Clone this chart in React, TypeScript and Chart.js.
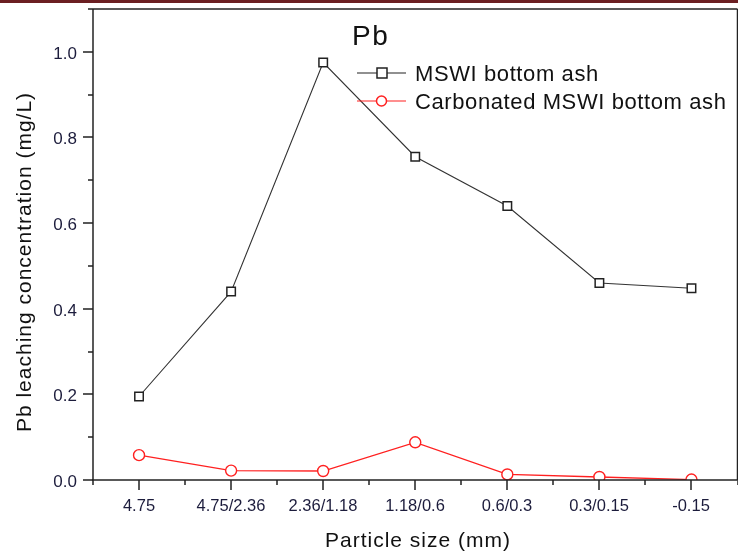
import React, { useEffect, useRef } from "react";
import { Chart, registerables } from "chart.js";

Chart.register(...registerables);

const categories = ["4.75", "4.75/2.36", "2.36/1.18", "1.18/0.6", "0.6/0.3", "0.3/0.15", "-0.15"];
const rawAsh = [0.195, 0.44, 0.975, 0.755, 0.64, 0.46, 0.448];
const carbonatedAsh = [0.058, 0.022, 0.021, 0.088, 0.013, 0.007, 0.001];
const yTicks = [0, 0.2, 0.4, 0.6, 0.8, 1.0];
const yMinorTicks = [0.1, 0.3, 0.5, 0.7, 0.9, 1.1];
const seriesNames = ["MSWI bottom ash", "Carbonated MSWI bottom ash"];
const chartTitle = "Pb";
const xTitle = "Particle size (mm)";
const yTitle = "Pb leaching concentration (mg/L)";

const FONT = "'Liberation Sans', Arial, sans-serif";
const AXIS = "#222";

function line(ctx: CanvasRenderingContext2D, x1: number, y1: number, x2: number, y2: number) {
  ctx.beginPath();
  ctx.moveTo(x1, y1);
  ctx.lineTo(x2, y2);
  ctx.stroke();
}

const decorPlugin = {
  id: "decor",
  afterDraw(chart: any) {
    const ctx: CanvasRenderingContext2D = chart.ctx;
    const { left, right, top, bottom } = chart.chartArea;
    const xs = chart.scales.x;
    const ys = chart.scales.y;
    ctx.save();

    const majorY = yTicks.map((v) => Math.round(ys.getPixelForValue(v)));
    const minorY = yMinorTicks.map((v) => Math.round(ys.getPixelForValue(v)));
    const majorX = categories.map((_, i) => Math.round(xs.getPixelForValue(i)));
    const minorX = [...categories.map((_, i) => i - 0.5), categories.length - 0.5].map((v) =>
      Math.round(xs.getPixelForValue(v))
    );

    // y tick labels
    ctx.fillStyle = "#1c1c3c";
    ctx.font = `17px ${FONT}`;
    ctx.textAlign = "right";
    ctx.textBaseline = "alphabetic";
    yTicks.forEach((v, k) => {
      ctx.fillText(v.toFixed(1), 77, majorY[k] + 6.5);
    });
    // x tick labels
    ctx.font = `16.5px ${FONT}`;
    ctx.textAlign = "center";
    categories.forEach((c, i) => {
      ctx.fillText(c, majorX[i], bottom + 31);
    });

    // frame
    ctx.strokeStyle = AXIS;
    ctx.lineWidth = 1.5;
    line(ctx, left, bottom, left, top);
    line(ctx, left, top, right, top);
    line(ctx, right, top, right, bottom);
    line(ctx, left - 1, bottom, right, bottom);

    // ticks
    ctx.fillStyle = AXIS;
    for (let k = 0; k < majorY.length; k++) ctx.fillRect(left - 10, majorY[k] - 0.75, 10, 1.5);
    for (let k = 0; k < majorX.length; k++) ctx.fillRect(majorX[k] - 0.75, bottom, 1.5, 10);
    minorY.forEach((py) => ctx.fillRect(left - 5, py - 0.75, 5, 1.5));
    minorX.forEach((px) => ctx.fillRect(px - 0.75, bottom, 1.5, 5));

    // axis titles
    ctx.fillStyle = "#111";
    ctx.font = `21px ${FONT}`;
    (ctx as any).letterSpacing = "1px";
    ctx.fillText(xTitle, 418, 547);
    ctx.save();
    ctx.translate(31, 262);
    ctx.rotate(-Math.PI / 2);
    ctx.fillText(yTitle, 0, 0);
    ctx.restore();

    // chart title
    (ctx as any).letterSpacing = "1.5px";
    ctx.font = `28px ${FONT}`;
    ctx.textAlign = "left";
    ctx.fillText(chartTitle, 352, 45);

    // legend
    const items = [
      { y: 73, base: 81, color: "#222", shape: "square" },
      { y: 101, base: 108.5, color: "#ff2020", shape: "circle" },
    ];
    (ctx as any).letterSpacing = "0.6px";
    ctx.font = `22px ${FONT}`;
    items.forEach((it, k) => {
      ctx.strokeStyle = it.color;
      ctx.lineWidth = 1.2;
      line(ctx, 357, it.y, 406, it.y);
      ctx.fillStyle = "#fff";
      ctx.lineWidth = 1.5;
      if (it.shape === "square") {
        ctx.fillRect(377, it.y - 5, 10, 10);
        ctx.strokeRect(377, it.y - 5, 10, 10);
      } else {
        ctx.beginPath();
        ctx.arc(381.5, it.y, 5, 0, Math.PI * 2);
        ctx.fill();
        ctx.stroke();
      }
      ctx.fillStyle = "#111";
      ctx.fillText(seriesNames[k], 415, it.base);
    });
    ctx.restore();
  },
};

export default function App() {
  const ref = useRef<HTMLCanvasElement>(null);
  useEffect(() => {
    document.body.style.margin = "0";
    document.body.style.overflow = "hidden";
    const chart = new Chart(ref.current as HTMLCanvasElement, {
      type: "line",
      data: {
        datasets: [
          {
            label: seriesNames[0],
            data: rawAsh.map((y, i) => ({ x: i, y })),
            borderColor: "#333",
            borderWidth: 1.1,
            pointStyle: "rect",
            pointRadius: 6,
            pointBorderWidth: 1.5,
            pointBorderColor: "#222",
            pointBackgroundColor: "#fff",
          },
          {
            label: seriesNames[1],
            data: carbonatedAsh.map((y, i) => ({ x: i, y })),
            borderColor: "#ff2020",
            borderWidth: 1.3,
            pointStyle: "circle",
            pointRadius: 5.5,
            pointBorderWidth: 1.4,
            pointBorderColor: "#ff2020",
            pointBackgroundColor: "#fff",
          },
        ],
      },
      options: {
        animation: false,
        responsive: false,
        maintainAspectRatio: false,
        layout: { padding: { top: 9, right: 4, left: 0, bottom: 0 } },
        plugins: { legend: { display: false }, tooltip: { enabled: false } },
        scales: {
          x: {
            type: "linear",
            min: -0.5,
            max: categories.length - 0.5,
            grid: { display: false },
            border: { display: false },
            ticks: { display: false },
            afterFit: (s: any) => {
              s.height = 73;
            },
          },
          y: {
            min: 0,
            max: 1.1,
            grid: { display: false },
            border: { display: false },
            ticks: { display: false },
            afterFit: (s: any) => {
              s.width = 93;
            },
          },
        },
      },
      plugins: [decorPlugin],
    } as any);
    return () => chart.destroy();
  }, []);
  return (
    <div style={{ position: "relative", width: 738, height: 553, overflow: "hidden", background: "#fff" }}>
      <div style={{ position: "absolute", left: 0, top: 0, width: 738, height: 3, background: "#6b1f22", zIndex: 1 }} />
      <canvas ref={ref} width={745} height={553} style={{ display: "block", width: 745, height: 553 }} />
    </div>
  );
}
